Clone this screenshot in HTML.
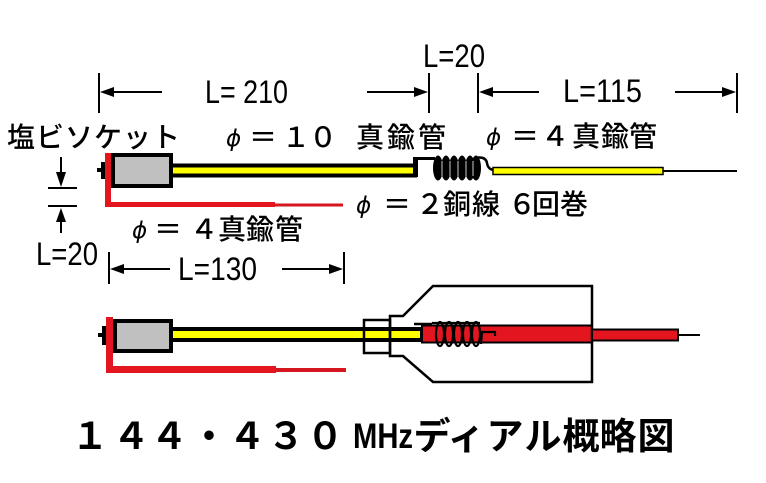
<!DOCTYPE html>
<html><head><meta charset="utf-8"><style>
html,body{margin:0;padding:0;background:#fff;}
svg{display:block;}
text{font-family:"Liberation Sans","Noto Sans CJK JP",sans-serif;fill:#000;}
.j{font-size:28px;font-weight:500;}
.c{text-anchor:middle;}
.p{font-family:"DejaVu Sans",sans-serif;font-style:oblique;font-size:23px;}
.L{font-family:"Liberation Sans",sans-serif;font-size:32px;}
.t{font-weight:bold;font-size:37px;text-anchor:middle;}
</style></head><body>
<svg width="766" height="483" viewBox="0 0 766 483" xmlns="http://www.w3.org/2000/svg">
<rect width="766" height="483" fill="#fff"/>

<!-- ===== Dimension lines top ===== -->
<g stroke="#000" stroke-width="2" fill="none">
  <line x1="99" y1="73" x2="99" y2="113"/>
  <line x1="104" y1="92" x2="162" y2="92"/>
  <line x1="367" y1="92" x2="422" y2="92"/>
  <line x1="429" y1="73" x2="429" y2="113"/>
  <line x1="478" y1="73" x2="478" y2="113"/>
  <line x1="483" y1="92" x2="539" y2="92"/>
  <line x1="675" y1="92" x2="732" y2="92"/>
  <line x1="737" y1="73" x2="737" y2="113"/>
  <!-- vertical L=20 -->
  <line x1="61" y1="157" x2="61" y2="178"/>
  <line x1="48" y1="188" x2="77" y2="188"/>
  <line x1="48" y1="206" x2="77" y2="206"/>
  <line x1="61" y1="215" x2="61" y2="233"/>
  <!-- L=130 -->
  <line x1="109" y1="252" x2="109" y2="284"/>
  <line x1="114" y1="269" x2="170" y2="269"/>
  <line x1="282" y1="269" x2="338" y2="269"/>
  <line x1="344" y1="252" x2="344" y2="284"/>
</g>
<g fill="#000">
  <polygon points="100,92 114,87 114,97"/>
  <polygon points="428,92 414,87 414,97"/>
  <polygon points="479,92 493,87 493,97"/>
  <polygon points="736,92 722,87 722,97"/>
  <polygon points="61,187 56,172 66,172"/>
  <polygon points="61,208 56,222 66,222"/>
  <polygon points="110,269 124,264 124,274"/>
  <polygon points="343,269 329,264 329,274"/>
</g>

<!-- Latin dimension labels -->
<text class="L" x="205" y="103" textLength="83" lengthAdjust="spacingAndGlyphs">L= 210</text>
<text class="L" x="423" y="67" font-size="31" textLength="62" lengthAdjust="spacingAndGlyphs">L=20</text>
<text class="L" x="563" y="102" textLength="79" lengthAdjust="spacingAndGlyphs">L=115</text>
<text class="L" x="36" y="265" textLength="62" lengthAdjust="spacingAndGlyphs">L=20</text>
<text class="L" x="178" y="280" textLength="79" lengthAdjust="spacingAndGlyphs">L=130</text>

<!-- Japanese labels -->
<text class="j" x="7" y="147" letter-spacing="1">塩ビソケット</text>

<text class="p" x="226" y="146">ϕ</text>
<text class="j c" x="263" y="147">＝</text>
<text class="j c" x="296" y="147">１</text>
<text class="j c" x="323" y="147">０</text>
<text class="j c" x="370" y="147" font-size="29">真</text>
<text class="j c" x="401" y="147" font-size="29">鍮</text>
<text class="j c" x="432" y="147" font-size="29">管</text>

<text class="p" x="486" y="145">ϕ</text>
<text class="j c" x="525" y="146">＝</text>
<text class="j c" x="555" y="146">４</text>
<text class="j c" x="586" y="146">真</text>
<text class="j c" x="615" y="146">鍮</text>
<text class="j c" x="643" y="146">管</text>

<text class="p" x="356" y="213">ϕ</text>
<text class="j c" x="397" y="214">＝</text>
<text class="j c" x="430" y="214">２</text>
<text class="j c" x="457" y="214">銅</text>
<text class="j c" x="486" y="214">線</text>
<text class="j c" x="522" y="214">６</text>
<text class="j c" x="546" y="214">回</text>
<text class="j c" x="574" y="214">巻</text>

<text class="p" x="132" y="238">ϕ</text>
<text class="j c" x="168" y="239">＝</text>
<text class="j c" x="204" y="239">４</text>
<text class="j c" x="232" y="239">真</text>
<text class="j c" x="260" y="239">鍮</text>
<text class="j c" x="289" y="239">管</text>

<!-- ===== Top diagram ===== -->
<rect x="101" y="162" width="5" height="17" fill="#000"/>
<rect x="97" y="168" width="5" height="4" fill="#000"/>
<rect x="105" y="153" width="6" height="54" fill="#e3161f"/>
<rect x="105" y="202" width="170" height="5" fill="#e3161f"/>
<rect x="275" y="203.5" width="68" height="3" fill="#d5161e"/>
<rect x="172" y="163.5" width="245" height="14" fill="#000"/>
<rect x="172" y="167.5" width="241" height="6" fill="#ffff00"/>
<rect x="413" y="157" width="22" height="3" fill="#000"/>
<rect x="413" y="157" width="5" height="20" fill="#000"/>
<rect x="113" y="155" width="58" height="31" fill="#c0c0c0" stroke="#000" stroke-width="4"/>
<g fill="#000">
  <ellipse cx="438" cy="168" rx="5" ry="12.5"/>
  <ellipse cx="446" cy="168" rx="5" ry="12.5"/>
  <ellipse cx="454" cy="168" rx="5" ry="12.5"/>
  <ellipse cx="462" cy="168" rx="5" ry="12.5"/>
  <ellipse cx="470" cy="168" rx="5" ry="12.5"/>
  <ellipse cx="476" cy="168" rx="5" ry="12.5"/>
</g>
<g stroke="#fff" stroke-width="0.8">
  <line x1="442" y1="161" x2="442" y2="176"/>
  <line x1="450" y1="161" x2="450" y2="176"/>
  <line x1="458" y1="161" x2="458" y2="176"/>
  <line x1="466" y1="161" x2="466" y2="176"/>
  <line x1="473" y1="161" x2="473" y2="176"/>
</g>
<path d="M478 157.5 Q486 157 487 163 Q488 170 495 170" stroke="#000" stroke-width="2.5" fill="none"/>
<rect x="493" y="167.5" width="170" height="7" fill="#ffff00" stroke="#000" stroke-width="1.5"/>
<line x1="663" y1="171" x2="737" y2="171" stroke="#000" stroke-width="2"/>

<!-- ===== Bottom diagram ===== -->
<rect x="102" y="326" width="5" height="19" fill="#000"/>
<rect x="98" y="333" width="5" height="4" fill="#000"/>
<rect x="106" y="317" width="7" height="56" fill="#e3161f"/>
<rect x="106" y="366" width="170" height="7" fill="#e3161f"/>
<rect x="276" y="368" width="70" height="4" fill="#d5161e"/>
<rect x="172" y="327" width="252" height="15" fill="#000"/>
<rect x="172" y="331" width="248" height="7" fill="#ffff00"/>
<rect x="422" y="325.5" width="170" height="17" fill="#e3161f" stroke="#000" stroke-width="2"/>
<path d="M414 324 L432 324" stroke="#000" stroke-width="2.5"/>
<rect x="115" y="321" width="56" height="30" fill="#c0c0c0" stroke="#000" stroke-width="4"/>
<rect x="364" y="320" width="26" height="33" fill="none" stroke="#000" stroke-width="2.5"/>
<path d="M390 316 L403 316 L433 286 L592 286 L592 382 L433 382 L403 356 L390 356 Z" fill="none" stroke="#000" stroke-width="2.5"/>
<g fill="none" stroke="#000" stroke-width="2.2">
  <ellipse cx="440" cy="334" rx="4" ry="12"/>
  <ellipse cx="449" cy="334" rx="4" ry="12"/>
  <ellipse cx="458" cy="334" rx="4" ry="12"/>
  <ellipse cx="467" cy="334" rx="4" ry="12"/>
  <ellipse cx="476" cy="334" rx="4" ry="12"/>
  <path d="M432 323 L480 323"/>
  <path d="M481 344 L482 332 L495 332 L495 336"/>
</g>
<rect x="592" y="329.5" width="86" height="11" fill="#e3161f" stroke="#000" stroke-width="2"/>
<line x1="678" y1="335" x2="700" y2="335" stroke="#000" stroke-width="2"/>

<!-- ===== Title ===== -->
<text class="t" x="90" y="449">１</text>
<text class="t" x="131" y="449">４</text>
<text class="t" x="169" y="449">４</text>
<text class="t" x="209" y="449">・</text>
<text class="t" x="247" y="449">４</text>
<text class="t" x="286" y="449">３</text>
<text class="t" x="325" y="449">０</text>
<text x="353" y="448" font-family="Liberation Sans" font-weight="bold" font-size="35" textLength="60" lengthAdjust="spacingAndGlyphs">MHz</text>
<text class="t" x="432" y="449">デ</text>
<text class="t" x="466" y="449">ィ</text>
<text class="t" x="505" y="449">ア</text>
<text class="t" x="543" y="449">ル</text>
<text class="t" x="581" y="449">概</text>
<text class="t" x="618" y="449">略</text>
<text class="t" x="656" y="449">図</text>
</svg>
</body></html>
